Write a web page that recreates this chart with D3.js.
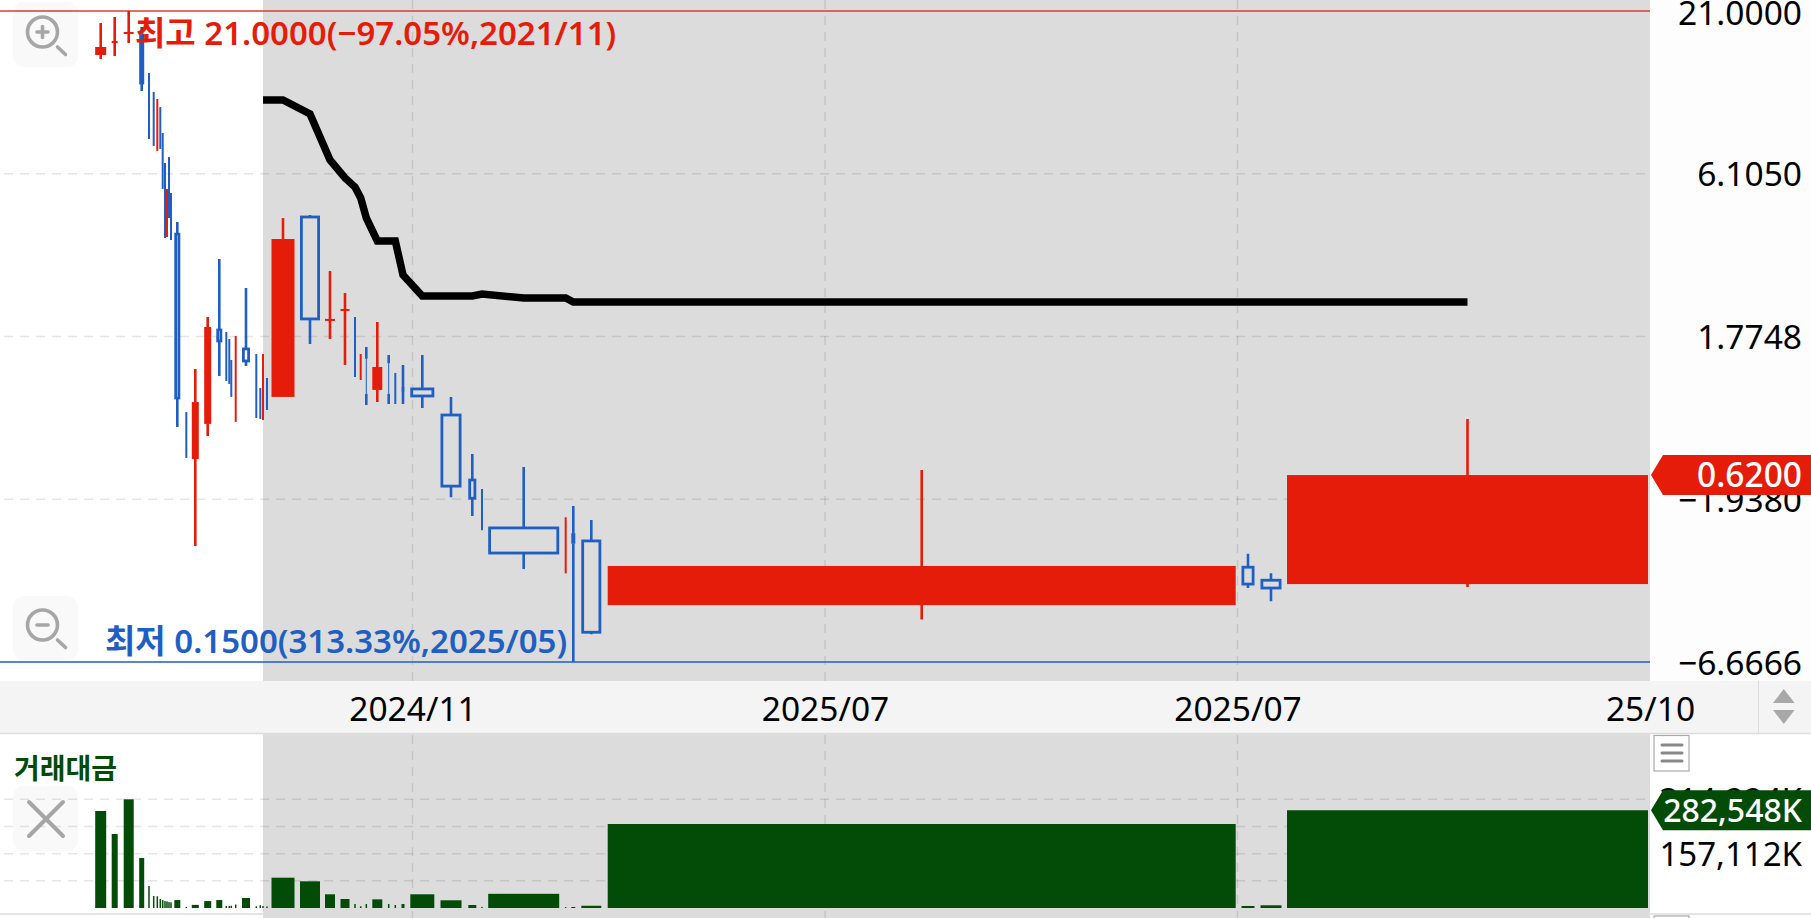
<!DOCTYPE html>
<html lang="ko">
<head>
<meta charset="utf-8">
<script src="https://cdn.jsdelivr.net/npm/d3@7"></script>
<style>
  html, body { margin: 0; padding: 0; background: #fff; overflow: hidden; }
  svg { display: block; }
  text { font-family: "Noto Sans", "Noto Sans CJK KR", sans-serif; }
</style>
</head>
<body>
<div id="chart"></div>
<script>
// equivolume axis: candle centre on the running volume, and the volume span each candle takes
const cumVolume = [
  50.35, 57.35, 64.35, 70.85, 74.5, 76.85, 78.65, 80.15, 81.35, 82.5,
  83.5, 84.5, 85.5, 88.65, 93.15, 97.65, 103.85, 109.65, 113.15, 114.65,
  115.65, 117.85, 123, 128.15, 130.15, 131.5, 133.5, 141.5, 155, 165,
  172.5, 177.5, 180.35, 183.15, 188.65, 194.35, 197.65, 201.5, 211.15, 225.5,
  236.15, 241, 261.85, 282.85, 286.65, 295.65, 460.85, 624, 635.5, 733.75
];
const spanVolume = [
  5.5, 3, 5, 2.5, 0, 0, 0, 0, 0, 0,
  0, 0, 0, 3, 0, 3.5, 3.5, 3, 0, 0,
  0, 0, 4, 0, 0, 0, 0, 11.5, 10, 5,
  4.5, 0, 0, 0.5, 5, 0.5, 0, 1.5, 12, 10.5,
  4, 0, 35.5, 0, 2, 10, 314, 6.5, 10.5, 180.5
];

const highs = [
  19.17, 20.07, 21, 18.6, 13.12, 11.36, 10.77, 10.13, 8.32, 6.63,
  5.44, 6.93, 5.28, 4.23, 1.0, 1.387, 2.059, 3.197, 1.837, 1.742,
  1.485, 1.782, 2.565, 1.554, 1.201, 1.554, 1.296, 4.36, 4.465, 2.919,
  2.47, 2.059, 1.554, 1.64, 1.982, 1.542, 1.346, 1.43, 1.542, 1.122,
  0.728, 0.558, 0.659, 0.45, 0.49, 0.441, 0.644, 0.341, 0.294, 0.949
];
const opens = [
  15.04, 16.6, 17.64, 17.5, 12.2, 10.6, 7.7, 9.4, 7.6, 5.9,
  4.0, 6.2, 4.9, 3.86, 0.95, 0.7, 0.914, 1.865, 1.75, 1.65,
  1.4, 1.0, 1.615, 1.45, 1.15, 1.0, 1.22, 1.122, 4.397, 2.02,
  2.175, 1.95, 1.33, 1.5, 1.183, 1.45, 1.3, 1.21, 1.192, 0.978,
  0.597, 0.53, 0.415, 0.33, 0.399, 0.376, 0.231, 0.308, 0.279, 0.271
];
const closes = [
  15.98, 16.72, 17.91, 12.16, 8.6, 8.0, 10.0, 7.9, 5.9, 4.1,
  5.1, 4.8, 3.9, 1.113, 0.74, 1.079, 1.908, 1.716, 1.35, 1.3,
  1.2, 1.6, 1.474, 1.05, 1.0, 1.45, 1.07, 3.72, 2.028, 2.028,
  2.187, 1.4, 1.5, 1.15, 1.408, 1.15, 1.1, 1.165, 1.13, 0.57,
  0.52, 0.43, 0.343, 0.4, 0.368, 0.188, 0.311, 0.271, 0.263, 0.62
];
const lows = [
  14.59, 14.92, 16.47, 11.44, 7.95, 7.54, 7.26, 7.37, 5.44, 3.75,
  3.78, 4.36, 3.69, 0.893, 0.706, 0.362, 0.834, 1.316, 1.266, 1.238,
  1.122, 0.928, 1.419, 0.956, 0.949, 0.942, 1.016, 1.122, 1.677, 1.742,
  1.43, 1.306, 1.276, 1.055, 1.079, 1.063, 1.063, 1.063, 1.031, 0.524,
  0.454, 0.408, 0.304, 0.294, 0.15, 0.185, 0.207, 0.263, 0.238, 0.265
];
// moving average only starts part way through
const movingAvg = [
  null, null, null, null, null, null, null, null, null, null,
  null, null, null, null, null, null, null, null, null, null,
  null, null, null, null, null, 10.687, 10.687, 10.687, 9.61, 6.778,
  5.912, 5.522, 5.079, 4.364, 3.665, 3.665, 3.665, 2.832, 2.415, 2.415,
  2.415, 2.451, 2.378, 2.378, 2.307, 2.307, 2.307, 2.307, 2.307, 2.307
];
// traded value, in thousands
const tradeValue = [
  280400, 213900, 314224, 144500, 63600, 34700, 34000, 26000, 23000, 20000,
  19000, 17000, 16500, 23000, 3000, 9000, 20000, 23000, 6000, 6000,
  6500, 10000, 29000, 5000, 8000, 5500, 4500, 87600, 77200, 39600,
  26000, 11500, 5000, 11500, 25000, 11500, 8700, 11500, 39600, 22300,
  8700, 3000, 41000, 2500, 3000, 6500, 242800, 5800, 7800, 282548
];

const priceTicks = [21, 6.105, 1.7748, 0.5164, 0.15];
const priceTickLabels = ["21.0000", "6.1050", "1.7748", "\u22121.9380", "\u22126.6666"];
const valueTicks = [314224, 235668, 157112, 78556];
const valueTickLabels = ["314,224K", "", "157,112K", ""];
const timeTicks = [206.25, 412.5, 618.75, 825];
const timeTickLabels = ["2024/11", "2025/07", "2025/07", "25/10"];

const lastPrice = 0.62;
const lastPriceLabel = "0.6200";
const lastValue = 282548;
const lastValueLabel = "282,548K";
const highText = "\ucd5c\uace0 21.0000(\u221297.05%,2021/11)";
const lowText = "\ucd5c\uc800 0.1500(313.33%,2025/05)";
const valueTitle = "\uac70\ub798\ub300\uae08";

const width = 1811;
const height = 918;
const plotRight = 1650;

const red = "#e61c0a";
const blue = "#1f5fc4";
const green = "#034c08";
const shade = "#dcdcdc";

const candles = cumVolume.map((c, i) => ({
  c, span: spanVolume[i], high: highs[i], open: opens[i], close: closes[i], low: lows[i],
  value: tradeValue[i], up: closes[i] >= opens[i]
}));

const x = d3.scaleLinear().domain([0, 825]).range([0, 1650]);
const y = d3.scaleLog().domain([0.15, 21]).range([662, 11]);
const yValue = d3.scaleLinear().domain([0, 314224]).range([908, 799.3]);

const svg = d3.select("#chart")
  .append("svg")
  .attr("width", width)
  .attr("height", height)
  .attr("viewBox", [0, 0, width, height])
  .style("background-color", "#fff");

// shaded zone starts where the moving average starts
const shadeStart = x(cumVolume[movingAvg.findIndex(d => d !== null)]);
svg.append("rect").attr("x", shadeStart).attr("y", 0).attr("width", plotRight - shadeStart).attr("height", 681).attr("fill", shade);
svg.append("rect").attr("x", shadeStart).attr("y", 733).attr("width", plotRight - shadeStart).attr("height", 185).attr("fill", shade);
svg.append("rect").attr("x", plotRight).attr("y", 0).attr("width", width - plotRight).attr("height", 681).attr("fill", "#fdfdfd");

// grid
const gridG = svg.append("g")
  .attr("stroke", "#000")
  .attr("stroke-opacity", 0.1)
  .attr("stroke-width", 1.5)
  .attr("stroke-dasharray", "9 7");

gridG.selectAll(".hgrid")
  .data(priceTicks.slice(1, 4))
  .join("line")
  .attr("x1", 4)
  .attr("x2", plotRight)
  .attr("y1", d => y(d))
  .attr("y2", d => y(d));

gridG.selectAll(".vgrid")
  .data(valueTicks)
  .join("line")
  .attr("x1", 4)
  .attr("x2", plotRight)
  .attr("y1", d => yValue(d))
  .attr("y2", d => yValue(d));

const vLines = timeTicks.slice(0, 3);
gridG.selectAll(".t1")
  .data(vLines)
  .join("line")
  .attr("x1", d => x(d))
  .attr("x2", d => x(d))
  .attr("y1", 0)
  .attr("y2", 681);
gridG.selectAll(".t2")
  .data(vLines)
  .join("line")
  .attr("x1", d => x(d))
  .attr("x2", d => x(d))
  .attr("y1", 735)
  .attr("y2", 918);

// high / low lines
svg.append("line").attr("x1", 0).attr("x2", plotRight).attr("y1", y(21)).attr("y2", y(21))
  .attr("stroke", "#d8402e").attr("stroke-width", 1.5);
svg.append("line").attr("x1", 0).attr("x2", plotRight).attr("y1", y(0.15)).attr("y2", y(0.15))
  .attr("stroke", blue).attr("stroke-width", 1.5);

// volume bars
svg.append("g")
  .attr("fill", green)
  .selectAll("rect")
  .data(candles)
  .join("rect")
  .attr("x", d => x(d.c) - Math.max(1.5, 2 * d.span) / 2)
  .attr("width", d => Math.max(1.5, 2 * d.span))
  .attr("y", d => yValue(d.value))
  .attr("height", d => yValue(0) - yValue(d.value));

// candles
const candleG = svg.append("g");
const bodyTop = d => y(Math.max(d.open, d.close));
const bodyBottom = d => y(Math.min(d.open, d.close));

candleG.selectAll(".wick")
  .data(candles)
  .join("path")
  .attr("fill", "none")
  .attr("stroke", d => d.up ? red : blue)
  .attr("stroke-width", d => d.span === 0 ? 2 : 2.6)
  .attr("d", d => d.span === 0
    ? `M${x(d.c)},${y(d.high)}V${y(d.low)}`
    : `M${x(d.c)},${y(d.high)}V${bodyTop(d)}M${x(d.c)},${bodyBottom(d)}V${y(d.low)}`);

candleG.selectAll(".body")
  .data(candles.filter(d => d.span > 0))
  .join("rect")
  .each(function(d) {
    const w = x(d.span) - x(0);
    const top = bodyTop(d);
    const h = Math.max(bodyBottom(d) - top, 2);
    const hollow = !d.up && d.span >= 2.5;
    const inset = hollow ? 1.4 : 0;
    d3.select(this)
      .attr("x", x(d.c) - w / 2 + inset)
      .attr("width", Math.max(w - 2 * inset, 0.5))
      .attr("y", top)
      .attr("height", h)
      .attr("fill", hollow ? "none" : (d.up ? red : blue))
      .attr("stroke", hollow ? blue : "none")
      .attr("stroke-width", 2.8);
  });

// moving average
const line = d3.line()
  .defined(d => d[1] !== null)
  .x(d => x(d[0]))
  .y(d => y(d[1]));

svg.append("path")
  .datum(cumVolume.map((c, i) => [c, movingAvg[i]]))
  .attr("fill", "none")
  .attr("stroke", "#000")
  .attr("stroke-width", 7.5)
  .attr("d", line);

// high / low text
svg.append("text").attr("x", 135).attr("y", 45)
  .attr("fill", red).attr("font-size", 33).attr("font-weight", 600).text(highText);
svg.append("text").attr("x", 105).attr("y", 653)
  .attr("fill", blue).attr("font-size", 33).attr("font-weight", 600).text(lowText);
svg.append("text").attr("x", 14).attr("y", 779)
  .attr("fill", green).attr("font-size", 28).attr("font-weight", 700).text(valueTitle);

// buttons on the left
function iconButton(top) {
  return svg.append("rect").attr("x", 13).attr("y", top).attr("width", 65).attr("height", 65)
    .attr("rx", 11).attr("fill", "#000").attr("fill-opacity", 0.025);
}
function magnifier(cy, plus) {
  const g = svg.append("g").attr("fill", "none").attr("stroke", "#a6a6a6").attr("stroke-width", 3.6).attr("stroke-linecap", "round");
  g.append("circle").attr("cx", 42.5).attr("cy", cy).attr("r", 15);
  g.append("line").attr("x1", 57.5).attr("y1", cy + 15).attr("x2", 65.5).attr("y2", cy + 22.5);
  g.append("line").attr("x1", 37).attr("y1", cy).attr("x2", 48).attr("y2", cy);
  if (plus) g.append("line").attr("x1", 42.5).attr("y1", cy - 5.5).attr("x2", 42.5).attr("y2", cy + 5.5);
}
iconButton(2);
magnifier(32, true);
iconButton(596);
magnifier(625, false);
iconButton(786);
svg.append("g").attr("stroke", "#a6a6a6").attr("stroke-width", 4).attr("stroke-linecap", "round")
  .call(g => {
    g.append("line").attr("x1", 29).attr("y1", 802).attr("x2", 63).attr("y2", 836);
    g.append("line").attr("x1", 63).attr("y1", 802).attr("x2", 29).attr("y2", 836);
  });

// time axis strip
svg.append("rect").attr("x", 0).attr("y", 681).attr("width", width).attr("height", 52).attr("fill", "#f4f4f4");
svg.append("line").attr("x1", 0).attr("x2", width).attr("y1", 733.5).attr("y2", 733.5).attr("stroke", "#ddd").attr("stroke-width", 1.5);
svg.append("line").attr("x1", 1758.5).attr("x2", 1758.5).attr("y1", 681).attr("y2", 733).attr("stroke", "#ddd").attr("stroke-width", 1);
svg.append("path").attr("d", "M1773,703L1783.8,689L1794.6,703Z").attr("fill", "#a8a8a8");
svg.append("path").attr("d", "M1773,710L1783.8,724L1794.6,710Z").attr("fill", "#a8a8a8");

const xAxis = d3.axisBottom(x)
  .tickValues(timeTicks)
  .tickSize(0)
  .tickFormat((d, i) => timeTickLabels[i]);

svg.append("g")
  .attr("transform", "translate(0,690)")
  .call(xAxis)
  .call(g => g.select(".domain").remove())
  .call(g => g.selectAll("text")
    .attr("y", 31)
    .attr("dy", 0)
    .attr("fill", "#000")
    .attr("font-size", 33.5)
    .style("font-family", '"Noto Sans", "Noto Sans CJK KR", sans-serif'));

// price axis, the top label sits a little lower than its tick
const yAxis = d3.axisRight(y)
  .tickValues(priceTicks)
  .tickSize(0)
  .tickFormat((d, i) => priceTickLabels[i]);

svg.append("g")
  .attr("transform", "translate(1802,0)")
  .call(yAxis)
  .call(g => g.select(".domain").remove())
  .call(g => g.selectAll("text")
    .attr("x", 0)
    .attr("y", (d, i) => i === 0 ? 1.5 : 0)
    .attr("text-anchor", "end")
    .attr("dy", "0.36em")
    .attr("fill", "#000")
    .attr("font-size", 33.5)
    .style("font-family", '"Noto Sans", "Noto Sans CJK KR", sans-serif'));

// value axis
const valueAxis = d3.axisRight(yValue)
  .tickValues(valueTicks)
  .tickSize(0)
  .tickFormat((d, i) => valueTickLabels[i]);

svg.append("g")
  .attr("transform", "translate(1802,0)")
  .call(valueAxis)
  .call(g => g.select(".domain").remove())
  .call(g => g.selectAll("text")
    .attr("x", 0)
    .attr("text-anchor", "end")
    .attr("dy", "0.36em")
    .attr("fill", "#000")
    .attr("font-size", 33)
    .style("font-family", '"Noto Sans", "Noto Sans CJK KR", sans-serif'));

// current value tags
function tag(cy, fill, label, size) {
  svg.append("path")
    .attr("d", `M1651,${cy}L1663,${cy - 20}H${width}V${cy + 20}H1663Z`)
    .attr("fill", fill);
  svg.append("text").attr("x", 1802).attr("y", cy).attr("dy", "0.36em")
    .attr("text-anchor", "end").attr("fill", "#fff").attr("font-size", size).attr("font-weight", 500).text(label);
}
tag(y(lastPrice), red, lastPriceLabel, 33.5);
tag(yValue(lastValue), green, lastValueLabel, 32);

// menu button, and the next panel's button at the bottom edge
svg.append("rect").attr("x", 1654).attr("y", 735.5).attr("width", 35).attr("height", 35.5)
  .attr("fill", "#fff").attr("stroke", "#aaa").attr("stroke-width", 1.2);
svg.append("g").attr("stroke", "#888").attr("stroke-width", 3).attr("stroke-linecap", "round")
  .selectAll("line")
  .data([745, 753, 761])
  .join("line")
  .attr("x1", 1662).attr("x2", 1682)
  .attr("y1", d => d).attr("y2", d => d);
svg.append("line").attr("x1", 0).attr("x2", shadeStart).attr("y1", 914).attr("y2", 914).attr("stroke", "#ddd").attr("stroke-width", 1.5);
svg.append("line").attr("x1", plotRight).attr("x2", width).attr("y1", 914).attr("y2", 914).attr("stroke", "#ddd").attr("stroke-width", 1.5);
svg.append("rect").attr("x", 1654).attr("y", 916).attr("width", 35).attr("height", 10)
  .attr("fill", "#fff").attr("stroke", "#aaa").attr("stroke-width", 1.2);
</script>
</body>
</html>
